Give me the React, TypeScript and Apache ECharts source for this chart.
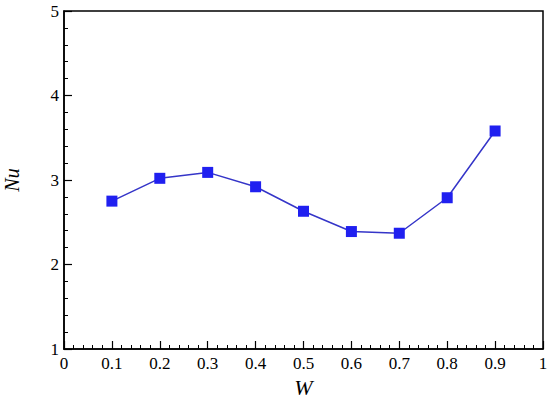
import React, { useEffect, useRef } from "react";
import * as echarts from "echarts";

const wValues = [0.1, 0.2, 0.3, 0.4, 0.5, 0.6, 0.7, 0.8, 0.9];
const nuValues = [2.75, 3.02, 3.09, 2.92, 2.63, 2.39, 2.37, 2.79, 3.58];
const xTickLabels = ["0", "0.1", "0.2", "0.3", "0.4", "0.5", "0.6", "0.7", "0.8", "0.9", "1"];
const yTickLabels = ["1", "2", "3", "4", "5"];

export default function App() {
  const ref = useRef<HTMLDivElement>(null);
  useEffect(() => {
    if (!ref.current) return;
    const chart = echarts.init(ref.current, null, { renderer: "svg" });
    const font = "Liberation Serif";
    const labelStyle = {
      fontFamily: font,
      fontSize: 17,
      color: "#000",
    };
    chart.setOption({
      animation: false,
      backgroundColor: "#fff",
      textStyle: { fontFamily: font, fontSize: 17, color: "#000" },
      grid: {
        left: 64,
        top: 11,
        right: 7,
        bottom: 55,
        containLabel: false,
        outerBoundsMode: "none",
        show: true,
        borderColor: "#000",
        borderWidth: 1.5,
        backgroundColor: "transparent",
      },
      xAxis: {
        type: "value",
        min: 0,
        max: 1,
        interval: 0.1,
        name: "W",
        nameLocation: "middle",
        nameGap: 27,
        nameTextStyle: { fontFamily: font, fontStyle: "italic", fontSize: 22, color: "#000" },
        axisLine: { lineStyle: { color: "#000", width: 1.5 } },
        axisTick: { inside: true, length: 8, lineStyle: { color: "#000", width: 1.2 } },
        minorTick: { show: true, splitNumber: 5, length: 4, lineStyle: { color: "#000", width: 1 } },
        splitLine: { show: false },
        axisLabel: {
          ...labelStyle,
          margin: 6,
          formatter: (v: number) => xTickLabels[Math.round(v * 10)] ?? "",
        },
      },
      yAxis: {
        type: "value",
        min: 1,
        max: 5,
        interval: 1,
        name: "Nu",
        nameLocation: "middle",
        nameGap: 42,
        nameRotate: 90,
        nameTextStyle: { fontFamily: font, fontStyle: "italic", fontSize: 20, color: "#000" },
        axisLine: { lineStyle: { color: "#000", width: 1.5 } },
        axisTick: { inside: true, length: 8, lineStyle: { color: "#000", width: 1.2 } },
        minorTick: { show: true, splitNumber: 5, length: 4, lineStyle: { color: "#000", width: 1 } },
        splitLine: { show: false },
        axisLabel: {
          ...labelStyle,
          margin: 5,
          formatter: (v: number) => yTickLabels[Math.round(v) - 1] ?? "",
        },
      },
      series: [
        {
          type: "line",
          data: wValues.map((w, i) => [w, nuValues[i]]),
          smooth: false,
          symbol: "rect",
          symbolSize: 11,
          itemStyle: { color: "#2020f0" },
          lineStyle: { color: "#3535c8", width: 1.5 },
        },
      ],
    });
    return () => chart.dispose();
  }, []);
  return (
    <div
      ref={ref}
      style={{ position: "fixed", left: 0, top: 0, width: 550, height: 404 }}
    />
  );
}
